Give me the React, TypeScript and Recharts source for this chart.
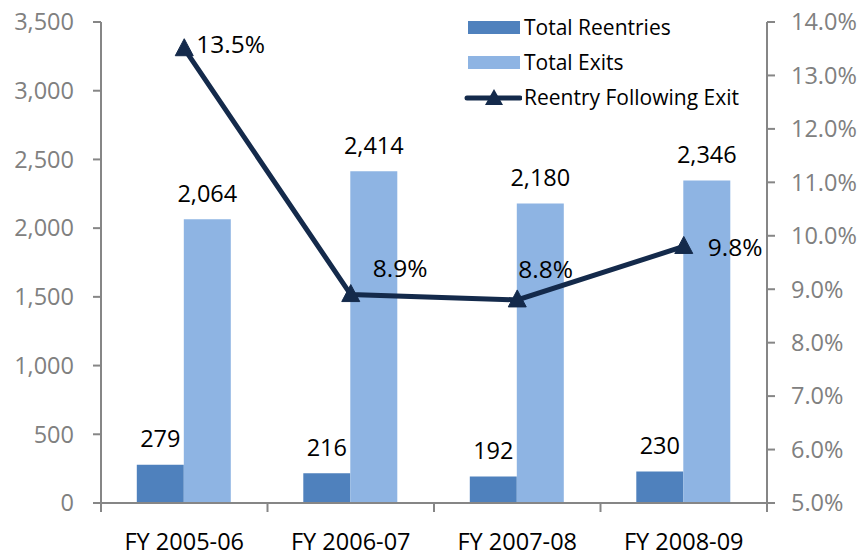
import React from "react";
import {
  ComposedChart,
  Bar,
  Line,
  XAxis,
  YAxis,
  LabelList,
} from "recharts";

const categories = ["FY 2005-06", "FY 2006-07", "FY 2007-08", "FY 2008-09"];
const totalReentries = [279, 216, 192, 230];
const totalExits = [2064, 2414, 2180, 2346];
const reentryRate = [13.5, 8.9, 8.8, 9.8];
const leftTicks = [0, 500, 1000, 1500, 2000, 2500, 3000, 3500];
const rightTicks = [5, 6, 7, 8, 9, 10, 11, 12, 13, 14];
const seriesNames = ["Total Reentries", "Total Exits", "Reentry Following Exit"];

// label placement offsets (style only) for the line labels: [dx, dy]
const lineLabelOffsets = [
  [12, -4],
  [22, -26],
  [1, -31],
  [24, 1],
];

const data = categories.map((c, i) => ({
  name: c,
  reentries: totalReentries[i],
  exits: totalExits[i],
  rate: reentryRate[i],
}));

const FONT = "'Open Sans', sans-serif";
const AXIS_GRAY = "#868686";
const DARK = "#4F81BD";
const LIGHT = "#8EB4E3";
const NAVY = "#142A4B";
const PLOT_LEFT = 101;
const PLOT_RIGHT = 767;
const BAND = (PLOT_RIGHT - PLOT_LEFT) / categories.length;
const X_TICK_MARGIN = 22;

const fmtNum = (v: number) => v.toLocaleString("en-US");

const XTick = (props: any) => {
  const { x, y, payload, index } = props;
  const axisY = y - 8 - X_TICK_MARGIN;
  return (
    <g>
      <line x1={x - BAND / 2} x2={x - BAND / 2} y1={axisY} y2={axisY + 9} stroke={AXIS_GRAY} strokeWidth={2} />
      {index === categories.length - 1 && (
        <line x1={x + BAND / 2} x2={x + BAND / 2} y1={axisY} y2={axisY + 9} stroke={AXIS_GRAY} strokeWidth={2} />
      )}
      <text x={x} y={y} dy="0.71em" textAnchor="middle" fill="#000" fontSize={23.5} fontFamily={FONT}>
        {payload.value}
      </text>
    </g>
  );
};

const Triangle = (props: any) => {
  const { cx, cy } = props;
  if (cx == null || cy == null) return null;
  return (
    <path
      d={`M${cx},${cy - 10} L${cx + 9},${cy + 7} L${cx - 9},${cy + 7} Z`}
      fill={NAVY}
      stroke={NAVY}
      strokeWidth={1}
    />
  );
};

const LineLabel = (props: any) => {
  const { x, y, value, index } = props;
  const [dx, dy] = lineLabelOffsets[index] || [10, 0];
  return (
    <text x={x + dx} y={y + dy} dy="0.355em" textAnchor="start" fill="#000" fontSize={24.5} fontFamily={FONT}>
      {value.toFixed(1)}%
    </text>
  );
};

const BarLabel = (props: any) => {
  const { x, y, width, value } = props;
  return (
    <text x={x + width / 2} y={y - 26} dy="0.355em" textAnchor="middle" fill="#000" fontSize={23.5} fontFamily={FONT}>
      {fmtNum(value)}
    </text>
  );
};

const LegendBox = () => {
  const items = [
    { label: seriesNames[0], type: "bar", color: DARK },
    { label: seriesNames[1], type: "bar", color: LIGHT },
    { label: seriesNames[2], type: "line", color: NAVY },
  ];
  return (
    <div
      style={{
        position: "absolute",
        left: 463,
        top: 10,
        fontFamily: FONT,
        fontSize: 21,
        color: "#000",
        lineHeight: 1,
      }}
    >
      {items.map((it) => (
        <div key={it.label} style={{ display: "flex", alignItems: "center", height: 35, whiteSpace: "nowrap" }}>
          <svg width={59} height={20} style={{ marginRight: 2 }}>
            {it.type === "bar" ? (
              <rect x={5} y={3} width={52} height={13} fill={it.color} />
            ) : (
              <g>
                <line x1={4} x2={57} y1={10} y2={10} stroke={it.color} strokeWidth={5} strokeLinecap="round" />
                <path d="M31,1 L40,17 L22,17 Z" fill={it.color} />
              </g>
            )}
          </svg>
          <span>{it.label}</span>
        </div>
      ))}
    </div>
  );
};

export default function App() {
  return (
    <div style={{ position: "absolute", left: 0, top: 0, width: 863, height: 558, background: "#fff" }}>
      <ComposedChart
        width={863}
        height={558}
        data={data}
        margin={{ top: 22, right: 0, bottom: 0, left: 0 }}
        barGap={0}
        barCategoryGap="21.5%"
      >
        <XAxis
          dataKey="name"
          xAxisId="x"
          axisLine={{ stroke: AXIS_GRAY, strokeWidth: 2 }}
          tickLine={false}
          tickSize={8}
          tickMargin={X_TICK_MARGIN}
          tick={<XTick />}
          height={55}
          interval={0}
        />
        <YAxis
          yAxisId="left"
          orientation="left"
          domain={[0, 3500]}
          ticks={leftTicks}
          width={101}
          axisLine={{ stroke: AXIS_GRAY, strokeWidth: 2 }}
          tickLine={{ stroke: AXIS_GRAY, strokeWidth: 2 }}
          tickSize={8}
          tickMargin={19}
          tickFormatter={fmtNum}
          tick={{ fill: "#808080", fontSize: 23.5, fontFamily: FONT }}
          interval={0}
        />
        <YAxis
          yAxisId="right"
          orientation="right"
          domain={[5, 14]}
          ticks={rightTicks}
          width={96}
          axisLine={{ stroke: AXIS_GRAY, strokeWidth: 2 }}
          tickLine={{ stroke: AXIS_GRAY, strokeWidth: 2 }}
          tickSize={8}
          tickMargin={16}
          tickFormatter={(v: number) => `${v.toFixed(1)}%`}
          tick={{ fill: "#808080", fontSize: 23.5, fontFamily: FONT }}
          interval={0}
        />
        <Bar
          dataKey="reentries"
          name={seriesNames[0]}
          xAxisId="x"
          yAxisId="left"
          fill={DARK}
          isAnimationActive={false}
        >
          <LabelList dataKey="reentries" content={<BarLabel />} />
        </Bar>
        <Bar
          dataKey="exits"
          name={seriesNames[1]}
          xAxisId="x"
          yAxisId="left"
          fill={LIGHT}
          isAnimationActive={false}
        >
          <LabelList dataKey="exits" content={<BarLabel />} />
        </Bar>
        <Line
          dataKey="rate"
          name={seriesNames[2]}
          xAxisId="x"
          yAxisId="right"
          stroke={NAVY}
          strokeWidth={5}
          dot={<Triangle />}
          activeDot={false}
          isAnimationActive={false}
        >
          <LabelList dataKey="rate" content={<LineLabel />} />
        </Line>
      </ComposedChart>
      <LegendBox />
    </div>
  );
}
